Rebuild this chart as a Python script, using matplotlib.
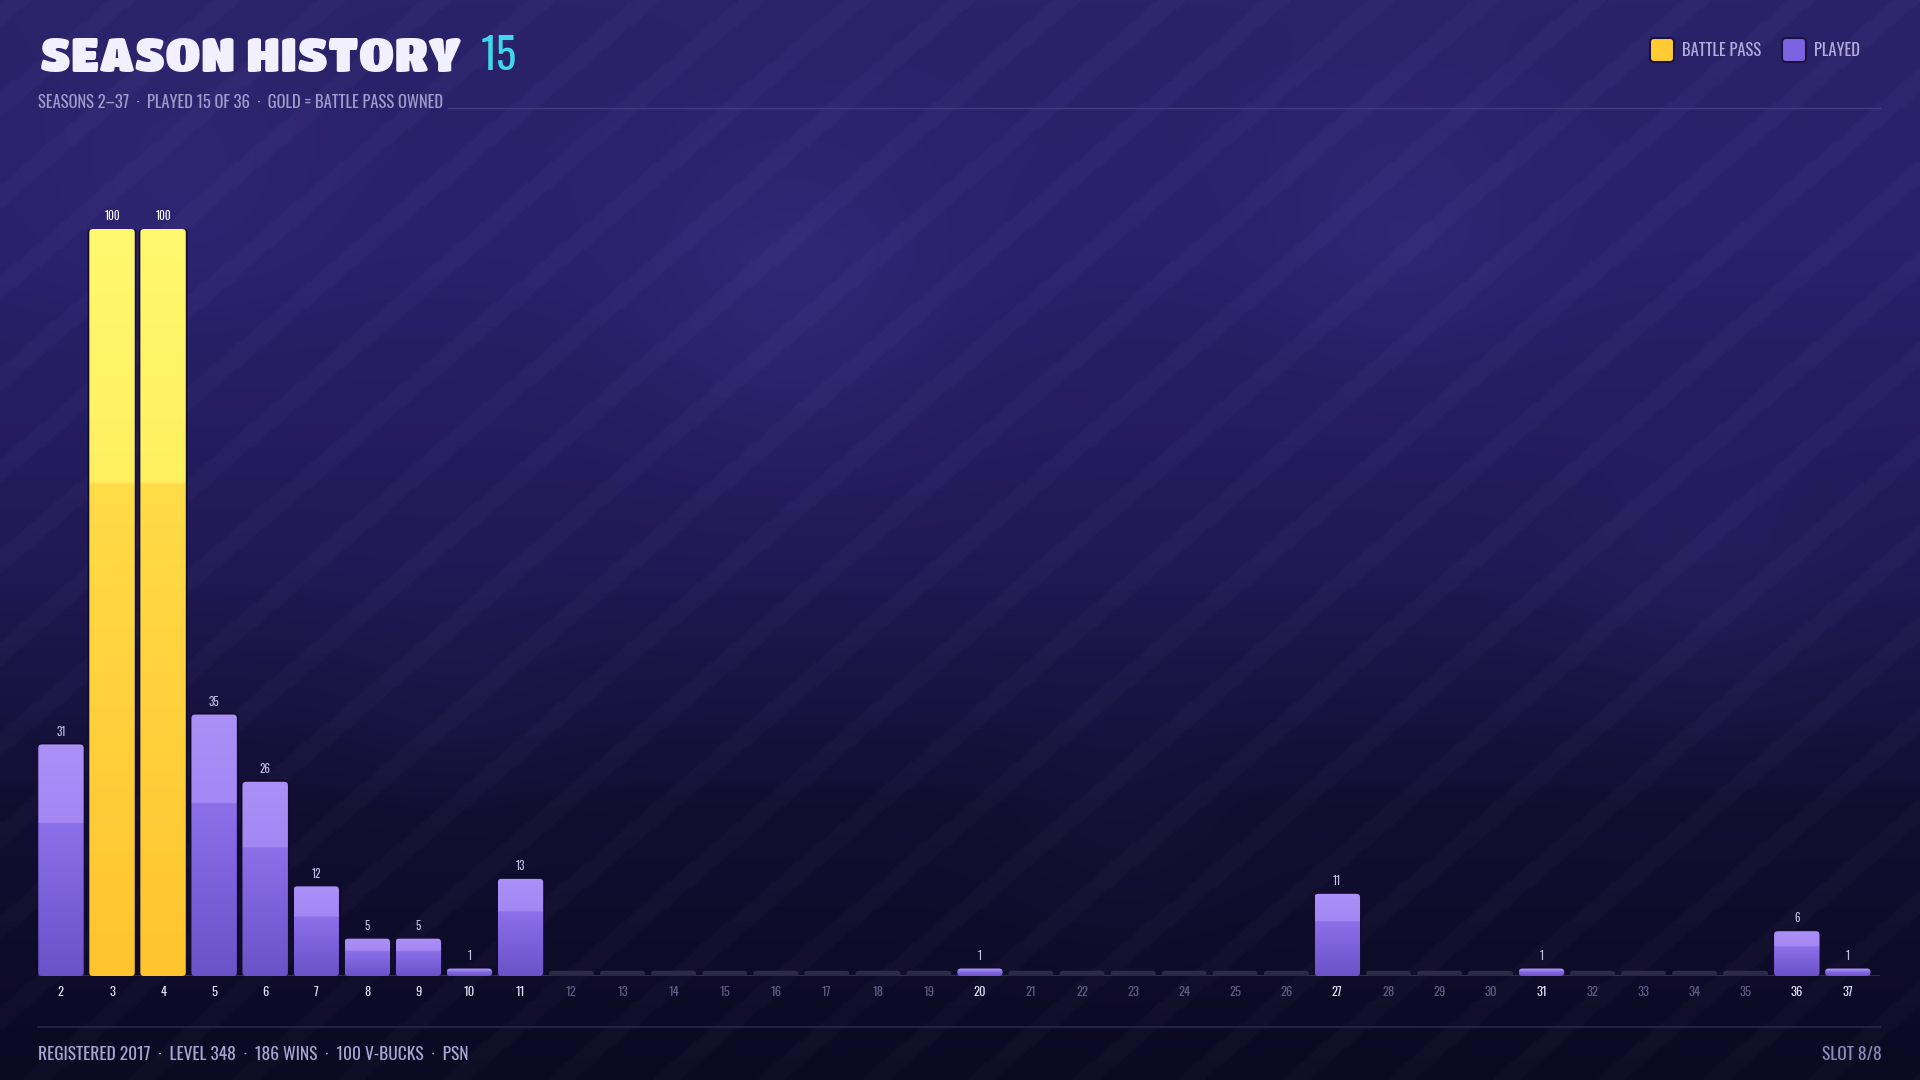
import numpy as np
import matplotlib
matplotlib.use("Agg")
import matplotlib.pyplot as plt
from matplotlib.patches import FancyBboxPatch
from matplotlib import font_manager as fm

# ---- data ----
seasons = list(range(2, 38))
values = [31, 100, 100, 35, 26, 12, 5, 5, 1, 13,
          0, 0, 0, 0, 0, 0, 0, 0, 1, 0,
          0, 0, 0, 0, 0, 11, 0, 0, 0, 1,
          0, 0, 0, 0, 6, 1]
battle_pass = [3, 4]
title = "SEASON HISTORY"
title_count = "15"
subtitle = "SEASONS 2\u201337  \u00b7  PLAYED 15 OF 36  \u00b7  GOLD = BATTLE PASS OWNED"
footer_left = "REGISTERED 2017  \u00b7  LEVEL 348  \u00b7  186 WINS  \u00b7  100 V-BUCKS  \u00b7  PSN"
footer_right = "SLOT 8/8"
legend_labels = ["BATTLE PASS", "PLAYED"]
legend_colors = ["#ffcc33", "#7b62e0"]

names = {f.name for f in fm.fontManager.ttflist}


def pick(cands):
    for c in cands:
        if c in names:
            return c
    return "DejaVu Sans"


heavy = pick(["Titan One", "Archivo Black", "Dela Gothic One", "Lato"])
narrow = pick(["Oswald", "Bebas Neue", "Roboto Condensed", "Liberation Sans Narrow"])

W, H = 1920, 1080
fig = plt.figure(figsize=(19.2, 10.8), dpi=100)
renderer = fig.canvas.get_renderer()


def fit(t, width):
    # scale font so the rendered text spans the given pixel width
    w = t.get_window_extent(renderer).width
    t.set_fontsize(t.get_fontsize() * width / w)
    return t


# ---- background ----
bg = fig.add_axes([0, 0, 1, 1])
bg.set_xlim(0, W)
bg.set_ylim(H, 0)
bg.axis("off")
yy, xx = np.mgrid[0:H:3, 0:W:3]
stops_y = [0, 250, 550, 800, 1080]
stops_c = [np.array(matplotlib.colors.to_rgb(c)) for c in
           ["#2b2369", "#29216a", "#211a56", "#120e32", "#0c0922"]]
img = np.stack([np.interp(yy, stops_y, [c[k] for c in stops_c]) for k in range(3)], axis=-1)
for gx, gy, r, a in [(790, 300, 110, 0.05), (1400, 230, 90, 0.04), (1700, 600, 90, 0.03),
                     (180, 180, 90, 0.03), (450, 700, 80, 0.02), (1120, 830, 80, 0.02)]:
    d = np.exp(-((xx - gx) ** 2 + (yy - gy) ** 2) / (2 * r ** 2))
    img = img + a * d[..., None] * np.array([0.6, 0.5, 1.0])
s = (xx + 1.15 * yy) % 105
band = ((s > 0) & (s < 28)).astype(float)
img = img + 0.018 * band[..., None]
bg.imshow(np.clip(img, 0, 1), extent=[0, W, H, 0], aspect="auto", interpolation="bilinear")

bg.plot([448, 1880], [108, 108], color="#4a4186", lw=1, alpha=0.8)
bg.plot([38, 1880], [1027, 1027], color="#2c2650", lw=1.2)

t1 = bg.text(40, 57, title, fontsize=30, family=heavy, fontweight="black", color="#f2efff",
             va="center", ha="left")
fit(t1, 421)
t2 = bg.text(481, 57, title_count, fontsize=30, family=narrow, fontweight="normal",
             color="#3fd6ee", va="center", ha="left")
fit(t2, 36)
t3 = bg.text(38, 102, subtitle, fontsize=13, family=narrow, color="#a29bcd",
             va="center", ha="left")
fit(t3, 407)
t4 = bg.text(38, 1054, footer_left, fontsize=13, family=narrow, color="#aaa4d2",
             va="center", ha="left")
fit(t4, 429)
bg.text(1882, 1054, footer_right, fontsize=t4.get_fontsize(), family=narrow, color="#8f89b8",
        va="center", ha="right")

# legend
leg_x = [1650, 1782]
for lx, label, col in zip(leg_x, legend_labels, legend_colors):
    bg.add_patch(FancyBboxPatch((lx, 38), 24, 24, boxstyle="round,pad=0,rounding_size=4",
                                facecolor=col, edgecolor="#1a1240", lw=1.5))
    bg.text(lx + 32, 51, label, fontsize=t3.get_fontsize(), family=narrow,
            color="#b3acdc", va="center", ha="left")

# ---- chart ----
ax = fig.add_axes([38 / W, 1 - 976 / H, (1880 - 38) / W, 747 / H])
ax.patch.set_alpha(0)
x = np.arange(len(seasons))
ax.set_xlim(-0.45, len(seasons) - 1 + 0.63)
ax.set_ylim(0, 100)
for sp in ax.spines.values():
    sp.set_visible(False)
ax.set_yticks([])
ax.set_xticks([])
ax.axhline(0, color="#3a3462", lw=1.2)

bar_w = 0.89
stub = 0.7
heights = [v if v > 0 else stub for v in values]
bars = ax.bar(x, heights, width=bar_w, color="none", edgecolor="none")


def gradient(c_bot, c_mid, c_top, c_hi, n=200, split=0.66):
    cs = [np.array(matplotlib.colors.to_rgb(c)) for c in (c_bot, c_mid, c_top, c_hi)]
    g = np.zeros((n, 1, 3))
    for i in range(n):
        f = i / (n - 1)
        if f < split:
            u = f / split
            g[i, 0] = cs[0] * (1 - u) + cs[1] * u
        else:
            u = (f - split) / (1 - split)
            g[i, 0] = cs[2] * (1 - u) + cs[3] * u
    return g


purple_g = gradient("#6a52c8", "#8c70ea", "#a387f3", "#ab90f8")
gold_g = gradient("#ffc42e", "#ffdc48", "#fff060", "#fff86e")
stub_g = gradient("#2a2645", "#2e2a4a", "#302c4c", "#322e4e")

for b, s_, v in zip(bars, seasons, values):
    x0, y0 = b.get_x(), b.get_y()
    w, h = b.get_width(), b.get_height()
    patch = FancyBboxPatch((x0, y0), w, h, boxstyle="round,pad=0,rounding_size=0.07",
                           mutation_aspect=6.8, facecolor="none",
                           edgecolor="#120c2c" if v > 0 else "none", lw=2.5, zorder=1.5)
    ax.add_patch(patch)
    if v == 0:
        g = stub_g
    elif s_ in battle_pass:
        g = gold_g
    else:
        g = purple_g
    im = ax.imshow(g, extent=[x0, x0 + w, y0, y0 + h], origin="lower", aspect="auto",
                   interpolation="bilinear", zorder=2)
    im.set_clip_path(patch)
    if v > 0:
        ax.text(x0 + w / 2, h + 0.9, str(v), ha="center", va="bottom", fontsize=8,
                family=narrow, color="#ffffff" if s_ in battle_pass else "#c4bfe6", zorder=3)
    ax.text(x0 + w / 2, -1.4, str(s_), ha="center", va="top", fontsize=9, family=narrow,
            fontweight="medium" if v > 0 else "normal",
            color="#e4e0fa" if v > 0 else "#625c86", zorder=3)

fig.savefig("out.png", dpi=100)
